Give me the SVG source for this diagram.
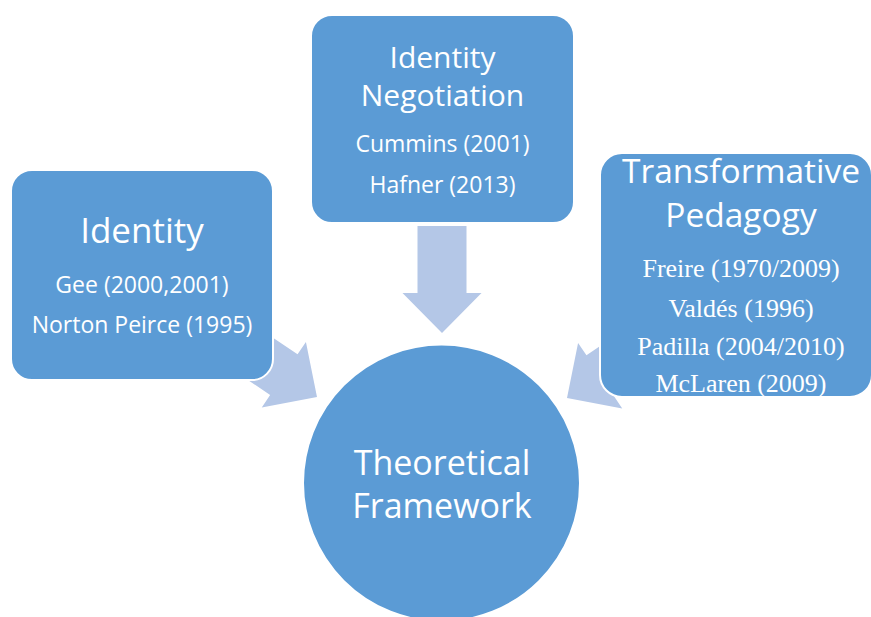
<svg xmlns="http://www.w3.org/2000/svg" width="871" height="617" viewBox="0 0 871 617">
<defs>
<style>
.box{fill:#5B9BD5;stroke:#FFFFFF;stroke-width:2}
.arr{fill:#B4C7E7}
.t{fill:#FFFFFF;font-family:"Open Sans","Noto Sans",sans-serif;text-anchor:middle}
.s{fill:#FFFFFF;font-family:"Liberation Serif","Times New Roman",serif;text-anchor:middle;font-size:26px}
</style>
<polygon id="arrow" points="-107,-24.5 -40,-24.5 -40,-39.5 0,0 -40,39.5 -40,24.5 -107,24.5"/>
</defs>
<rect width="871" height="617" fill="#FFFFFF"/>
<g id="connectors">
<use href="#arrow" class="arr" transform="translate(442,333) rotate(90)"/>
<use href="#arrow" class="arr" transform="translate(317,397) rotate(34)"/>
<use href="#arrow" class="arr" transform="translate(567,398) rotate(146)"/>
</g>
<g id="identity">
<rect class="box" x="11" y="170" width="262" height="210" rx="21"/>
<text class="t" x="142" y="243" font-size="35">Identity</text>
<text class="t" x="142" y="293" font-size="23">Gee (2000,2001)</text>
<text class="t" x="142" y="333" font-size="23">Norton Peirce (1995)</text>
</g>
<g id="identity-negotiation">
<rect class="box" x="311" y="15" width="263" height="208" rx="21"/>
<text class="t" x="442.5" y="68" font-size="30">Identity</text>
<text class="t" x="442.5" y="106" font-size="30">Negotiation</text>
<text class="t" x="442.5" y="152" font-size="23">Cummins (2001)</text>
<text class="t" x="442.5" y="193" font-size="23">Hafner (2013)</text>
</g>
<g id="transformative-pedagogy">
<rect class="box" x="600" y="153" width="272" height="244" rx="22"/>
<text class="t" x="741" y="183" font-size="33.5">Transformative</text>
<text class="t" x="741" y="227" font-size="33.5">Pedagogy</text>
<text class="s" x="741" y="277">Freire (1970/2009)</text>
<text class="s" x="741" y="317">Valdés (1996)</text>
<text class="s" x="741" y="355">Padilla (2004/2010)</text>
<text class="s" x="741" y="392">McLaren (2009)</text>
</g>
<g id="theoretical-framework">
<circle class="box" cx="441.5" cy="483" r="138.5"/>
<text class="t" x="442" y="475" font-size="34">Theoretical</text>
<text class="t" x="442" y="518" font-size="34">Framework</text>
</g>
</svg>
